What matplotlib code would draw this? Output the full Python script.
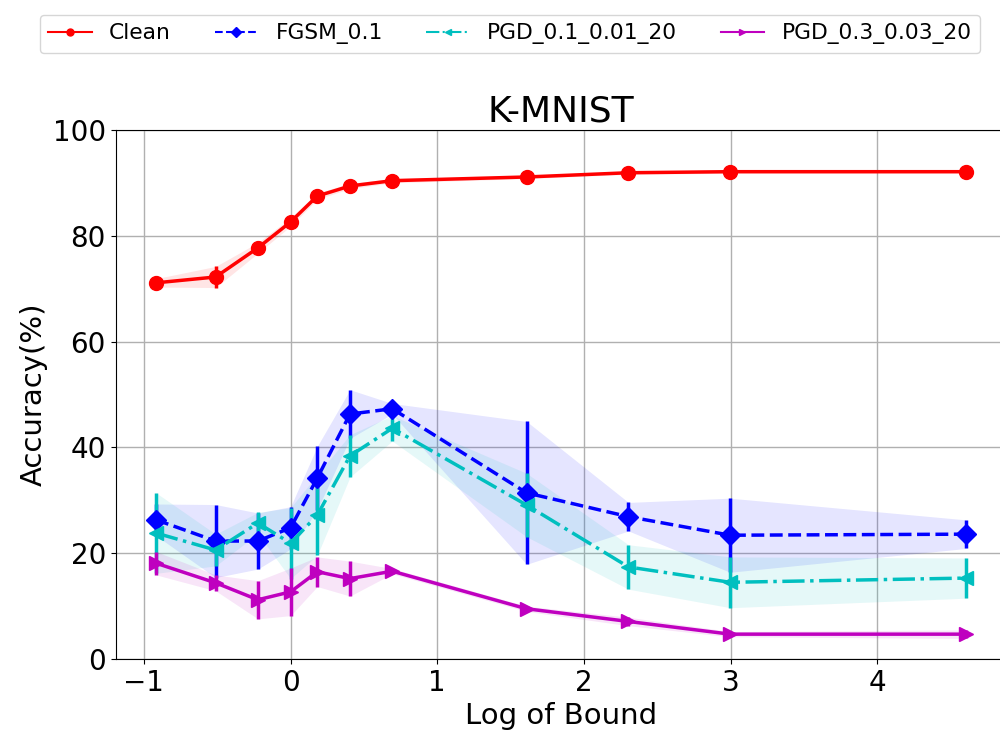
import numpy as np
import matplotlib
matplotlib.use("Agg")
import matplotlib.pyplot as plt

# log of bound
log_bound = [-0.916, -0.511, -0.223, 0.0, 0.182, 0.405, 0.693, 1.609, 2.303, 2.996, 4.605]

clean_mean = [71.1, 72.2, 77.7, 82.6, 87.5, 89.4, 90.4, 91.1, 91.9, 92.1, 92.1]
clean_std = [0.8, 2.0, 1.0, 0.8, 0.6, 0.5, 0.4, 0.3, 0.3, 0.3, 0.3]

fgsm_mean = [26.3, 22.3, 22.3, 24.8, 34.2, 46.3, 47.3, 31.4, 26.9, 23.4, 23.6]
fgsm_std = [3.0, 6.9, 5.3, 4.0, 6.0, 4.6, 1.0, 13.5, 2.7, 7.0, 2.7]

pgd1_mean = [23.8, 20.6, 25.7, 21.9, 27.2, 38.4, 43.6, 29.1, 17.4, 14.5, 15.3]
pgd1_std = [7.6, 3.0, 2.0, 6.7, 7.6, 4.0, 2.4, 6.0, 4.2, 4.8, 3.8]

pgd3_mean = [18.1, 14.4, 11.2, 12.7, 16.5, 15.2, 16.6, 9.5, 7.1, 4.7, 4.7]
pgd3_std = [2.2, 1.5, 3.6, 4.5, 2.8, 3.3, 0.5, 0.5, 0.8, 0.5, 0.8]

series = [
    ("Clean", clean_mean, clean_std, "r", "o", "-"),
    ("FGSM_0.1", fgsm_mean, fgsm_std, "b", "D", "--"),
    ("PGD_0.1_0.01_20", pgd1_mean, pgd1_std, "c", "<", "-."),
    ("PGD_0.3_0.03_20", pgd3_mean, pgd3_std, "m", ">", "-"),
]

fig = plt.figure(figsize=(10, 7.38), dpi=100)
# the original was cropped on the right, so the axes run past the figure edge
ax = fig.add_axes([0.1157, 0.107, 0.891, 0.717])

x = np.array(log_bound)
handles = []
for name, mean, std, col, mk, ls in series:
    m = np.array(mean)
    s = np.array(std)
    ax.fill_between(x, m - s, m + s, color=col, alpha=0.1, linewidth=0)
    ax.errorbar(x, m, yerr=s, color=col, marker=mk, linestyle=ls,
                linewidth=2.5, markersize=10, elinewidth=2.5)
    h, = ax.plot([], [], color=col, marker=mk, linestyle=ls,
                 linewidth=1.5, markersize=5)
    handles.append(h)

ax.set_xlim(-1.192, 4.881)
ax.set_ylim(0, 100)
ax.set_xticks([-1, 0, 1, 2, 3, 4])
ax.set_yticks([0, 20, 40, 60, 80, 100])
ax.tick_params(labelsize=20)
ax.grid(True, linewidth=1.0)
ax.set_axisbelow(True)
ax.set_title("K-MNIST", fontsize=26)
ax.set_xlabel("Log of Bound", fontsize=21)
ax.set_ylabel("Accuracy(%)", fontsize=21)

fig.legend(handles, [s[0] for s in series], loc="upper center",
           bbox_to_anchor=(0.51, 0.995), ncol=4, fontsize=15.65)

fig.savefig("out.png", dpi=100)
